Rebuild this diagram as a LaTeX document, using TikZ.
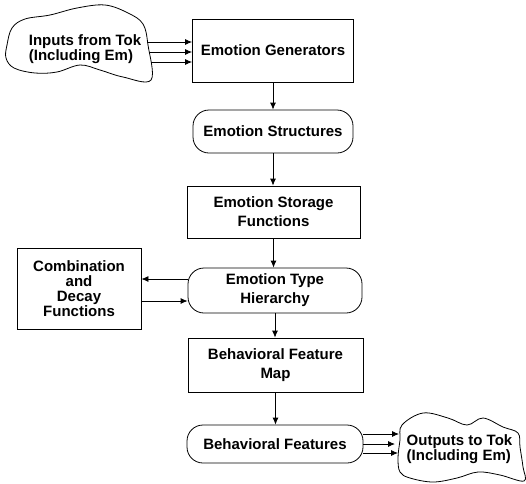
\documentclass[tikz,border=0pt]{standalone}
\usepackage{fontspec}
\setmainfont{Liberation Sans}
\usetikzlibrary{arrows.meta,calc}
\begin{document}
\begin{tikzpicture}[x=1pt,y=-1pt,
  font=\fontsize{15}{19}\selectfont\bfseries,
  ln/.style={line width=0.8pt},
  arr/.style={ln, -{Latex[length=7pt,width=6pt]}},
  boxnode/.style={draw, ln, rectangle, align=center, inner sep=0pt},
  roundnode/.style={draw, ln, rounded corners=16pt, align=center, inner sep=0pt},
  cloudtext/.style={font=\fontsize{15}{12.5}\selectfont\bfseries, align=left, inner sep=0pt},
]
\useasboundingbox (0,0) rectangle (526,483);

% main column
\node[boxnode, minimum width=161pt, minimum height=63pt] (gen) at (273,50.5) {Emotion Generators};
\node[roundnode, minimum width=160pt, minimum height=43pt] (str) at (273,131.5) {Emotion Structures};
\node[boxnode, minimum width=173pt, minimum height=52pt] (sto) at (273.5,212) {Emotion Storage\\Functions};
\node[roundnode, minimum width=174pt, minimum height=45pt] (hier) at (275,290.5) {Emotion Type\\Hierarchy};
\node[boxnode, minimum width=175pt, minimum height=54pt] (bfm) at (275.5,365) {Behavioral Feature\\Map};
\node[roundnode, minimum width=176pt, minimum height=38pt] (bf) at (275,444) {Behavioral Features};

% side box
\node[boxnode, minimum width=124pt, minimum height=81pt,
      font=\fontsize{15}{15}\selectfont\bfseries] (comb) at (79,288.5) {Combination\\and\\Decay\\Functions};

% input cloud
\draw[ln] plot[smooth cycle, tension=0.6] coordinates {
  (7,45) (12,28) (25,19) (50,15) (77,8) (105,5) (128,13) (143,24) (148,45)
  (151,80) (123,77) (100,70) (80,65) (57,72) (35,73) (14,68) (6,58)};
\node[cloudtext] (intext) at (85,49) {Inputs from Tok\\(Including Em)};

% output cloud
\draw[ln] plot[smooth cycle, tension=0.6] coordinates {
  (402,425) (423,413) (448,418) (467,425) (483,418) (503,427) (518,433)
  (520,447) (523,467) (524,481) (500,475) (478,472) (457,478) (433,482)
  (410,478) (400,472) (398,458) (400,440)};
\node[cloudtext] (outtext) at (459.5,449) {Outputs to Tok\\(Including Em)};

% input arrows
\coordinate (i1) at (147,42);
\coordinate (i2) at (149,52);
\coordinate (i3) at (151,62);
\draw[arr] (i1) -- (i1 -| gen.west);
\draw[arr] (i2) -- (i2 -| gen.west);
\draw[arr] (i3) -- (i3 -| gen.west);

% vertical flow
\draw[arr] (gen.south) -- (gen.south |- str.north);
\draw[arr] (str.south) -- (str.south |- sto.north);
\draw[arr] (sto.south) -- (sto.south |- hier.north);
\draw[arr] (hier.south) -- (hier.south |- bfm.north);
\draw[arr] (bfm.south) -- (bfm.south |- bf.north);

% combination arrows
\path ([yshift=11.5pt]hier.west) coordinate (h1);
\path ([yshift=-10.5pt]hier.west) coordinate (h2);
\draw[arr] (h1) -- (h1 -| comb.east);
\draw[arr] (h2 -| comb.east) -- (h2);

% output arrows
\path ([yshift=10pt]bf.east) coordinate (b1);
\path (bf.east) coordinate (b2);
\path ([yshift=-9pt]bf.east) coordinate (b3);
\coordinate (o1) at (399,434);
\coordinate (o2) at (395,444);
\coordinate (o3) at (398,453);
\draw[arr] (b1) -- (b1 -| o1);
\draw[arr] (b2) -- (b2 -| o2);
\draw[arr] (b3) -- (b3 -| o3);
\end{tikzpicture}
\end{document}
